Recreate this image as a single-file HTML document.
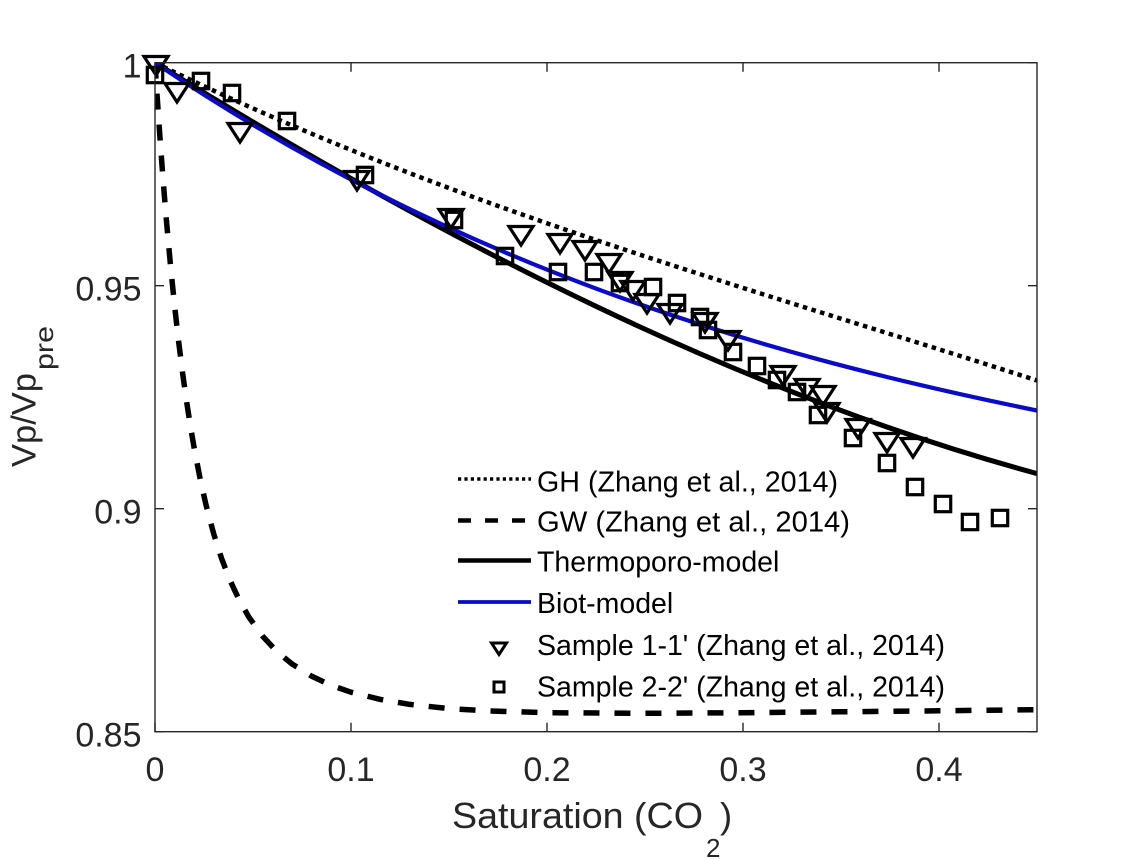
<!DOCTYPE html>
<html>
<head>
<meta charset="utf-8">
<style>
  html, body { margin: 0; padding: 0; background: #ffffff; }
  svg { display: block; }
  text { font-family: "Liberation Sans", Arial, Helvetica, sans-serif; fill: #262626; }
</style>
</head>
<body>
<svg xmlns="http://www.w3.org/2000/svg" width="1145" height="859" viewBox="0 0 1145 859">
  <defs>
    <clipPath id="plotclip">
      <rect x="155" y="62.7" width="882" height="669"/>
    </clipPath>
    <polygon id="tri" points="-12,-8.5 12,-8.5 0,10" fill="none" stroke="#000" stroke-width="3.2" stroke-linejoin="miter"/>
    <rect id="sq" x="-7.7" y="-7.7" width="15.4" height="15.4" fill="none" stroke="#000" stroke-width="3.2"/>
  </defs>

  <rect x="0" y="0" width="1145" height="859" fill="#ffffff"/>

  <!-- curves -->
  <g clip-path="url(#plotclip)" fill="none">
    <path d="M155,62.7 C449,206.76 743,285.6 1037,380.45" stroke="#000" stroke-width="4.5" stroke-dasharray="4.5 4.5"/>
    <polyline points="155,62.7 156.96,93.5 158.92,122.7 160.88,150.3 162.84,176.4 164.8,201.0 166.76,224.4 170.68,267.3 174.6,306.0 178.52,340.6 182.44,371.9 186.36,400.0 190.28,425.3 194.2,448.2 200.08,478.5 205.96,504.7 213.8,534.2 221.64,558.6 229.48,579.1 239.28,600.2 249.08,617.4 262.8,636.4 276.52,651.2 292.2,664.1 311.8,676.3 331.4,685.4 351,692.2 380.4,699.4 409.8,704.4 449,708.6 488.2,710.9 547,712.7 645,713.3 743,712.7 841,711.8 939,710.8 1037,709.7" stroke="#000" stroke-width="5.5" stroke-dasharray="16 15" stroke-linejoin="round"/>
    <path d="M155,62.7 C449,244.17 743,393.92 1037,473.56" stroke="#000" stroke-width="5"/>
    <path d="M155,62.7 C449,261.05 743,350.65 1037,410.53" stroke="#0a0ac8" stroke-width="4.2"/>
  </g>

  <!-- markers: triangles -->
  <g>
    <use href="#tri" x="156" y="65"/>
    <use href="#tri" x="177" y="92"/>
    <use href="#tri" x="240" y="132"/>
    <use href="#tri" x="357" y="180"/>
    <use href="#tri" x="451" y="218"/>
    <use href="#tri" x="521" y="235"/>
    <use href="#tri" x="560" y="243"/>
    <use href="#tri" x="585" y="250"/>
    <use href="#tri" x="609" y="263"/>
    <use href="#tri" x="620" y="281"/>
    <use href="#tri" x="633" y="290"/>
    <use href="#tri" x="647" y="303"/>
    <use href="#tri" x="670" y="313"/>
    <use href="#tri" x="705" y="322"/>
    <use href="#tri" x="728" y="340"/>
    <use href="#tri" x="783" y="375"/>
    <use href="#tri" x="807" y="388"/>
    <use href="#tri" x="823" y="395"/>
    <use href="#tri" x="827" y="412"/>
    <use href="#tri" x="858" y="428"/>
    <use href="#tri" x="887" y="442"/>
    <use href="#tri" x="913" y="447"/>
  </g>
  <!-- markers: squares -->
  <g>
    <use href="#sq" x="155" y="75"/>
    <use href="#sq" x="201" y="81"/>
    <use href="#sq" x="232" y="93"/>
    <use href="#sq" x="287" y="121"/>
    <use href="#sq" x="365" y="175"/>
    <use href="#sq" x="454" y="220"/>
    <use href="#sq" x="505" y="256"/>
    <use href="#sq" x="558" y="272"/>
    <use href="#sq" x="594" y="272"/>
    <use href="#sq" x="620" y="283"/>
    <use href="#sq" x="653" y="287"/>
    <use href="#sq" x="677" y="303"/>
    <use href="#sq" x="700" y="317"/>
    <use href="#sq" x="708" y="330"/>
    <use href="#sq" x="733" y="352"/>
    <use href="#sq" x="757" y="366"/>
    <use href="#sq" x="777" y="380"/>
    <use href="#sq" x="797" y="392"/>
    <use href="#sq" x="818" y="415"/>
    <use href="#sq" x="853" y="438"/>
    <use href="#sq" x="887" y="463"/>
    <use href="#sq" x="915" y="487"/>
    <use href="#sq" x="943" y="504"/>
    <use href="#sq" x="970" y="522"/>
    <use href="#sq" x="1000" y="518"/>
  </g>

  <!-- axes box and ticks -->
  <g stroke="#262626" stroke-width="1.4" fill="none">
    <rect x="155" y="62.7" width="882" height="669"/>
    <path d="M155,731.7 V722.7 M351,731.7 V722.7 M547,731.7 V722.7 M743,731.7 V722.7 M939,731.7 V722.7"/>
    <path d="M155,62.7 V71.7 M351,62.7 V71.7 M547,62.7 V71.7 M743,62.7 V71.7 M939,62.7 V71.7"/>
    <path d="M155,62.7 H164 M155,285.7 H164 M155,508.7 H164 M155,731.7 H164"/>
    <path d="M1037,62.7 H1028 M1037,285.7 H1028 M1037,508.7 H1028 M1037,731.7 H1028"/>
  </g>

  <!-- tick labels -->
  <g font-size="34">
    <text x="155" y="781" text-anchor="middle">0</text>
    <text x="351" y="781" text-anchor="middle">0.1</text>
    <text x="547" y="781" text-anchor="middle">0.2</text>
    <text x="743" y="781" text-anchor="middle">0.3</text>
    <text x="939" y="781" text-anchor="middle">0.4</text>
    <text x="141.5" y="77.7" text-anchor="end">1</text>
    <text x="141.5" y="300.7" text-anchor="end">0.95</text>
    <text x="141.5" y="523.7" text-anchor="end">0.9</text>
    <text x="141.5" y="746.7" text-anchor="end">0.85</text>
  </g>

  <!-- axis labels -->
  <text x="452" y="828" font-size="36.5" textLength="251" lengthAdjust="spacingAndGlyphs">Saturation (CO</text>
  <text x="706" y="857" font-size="26">2</text>
  <text x="720" y="828" font-size="36.5">)</text>

  <text transform="translate(35.5,467) rotate(-90)" font-size="34" textLength="94" lengthAdjust="spacingAndGlyphs">Vp/Vp</text>
  <text transform="translate(53,370) rotate(-90)" font-size="26" textLength="44" lengthAdjust="spacingAndGlyphs">pre</text>

  <!-- legend -->
  <g fill="none">
    <line x1="458" y1="479" x2="531" y2="479" stroke="#000" stroke-width="3.5" stroke-dasharray="3.2 3.2"/>
    <line x1="458" y1="520.5" x2="531" y2="520.5" stroke="#000" stroke-width="4.5" stroke-dasharray="13 14"/>
    <line x1="458" y1="560.5" x2="531" y2="560.5" stroke="#000" stroke-width="4.5"/>
    <line x1="458" y1="602" x2="531" y2="602" stroke="#0a0ac8" stroke-width="3.8"/>
    <polygon points="491.5,643 506.5,643 499,654.5" stroke="#000" stroke-width="3" stroke-linejoin="miter"/>
    <rect x="494" y="682" width="10" height="10" stroke="#000" stroke-width="3"/>
  </g>
  <g font-size="28.5">
    <text x="537" y="491.7" style="fill:#000" textLength="301" lengthAdjust="spacingAndGlyphs">GH (Zhang et al., 2014)</text>
    <text x="537" y="531.7" style="fill:#000" textLength="313" lengthAdjust="spacingAndGlyphs">GW (Zhang et al., 2014)</text>
    <text x="537" y="571.7" style="fill:#000">Thermoporo-model</text>
    <text x="537" y="613" style="fill:#000">Biot-model</text>
    <text x="537" y="655" style="fill:#000" textLength="408" lengthAdjust="spacingAndGlyphs">Sample 1-1' (Zhang et al., 2014)</text>
    <text x="537" y="696.7" style="fill:#000" textLength="408" lengthAdjust="spacingAndGlyphs">Sample 2-2' (Zhang et al., 2014)</text>
  </g>
</svg>
</body>
</html>
